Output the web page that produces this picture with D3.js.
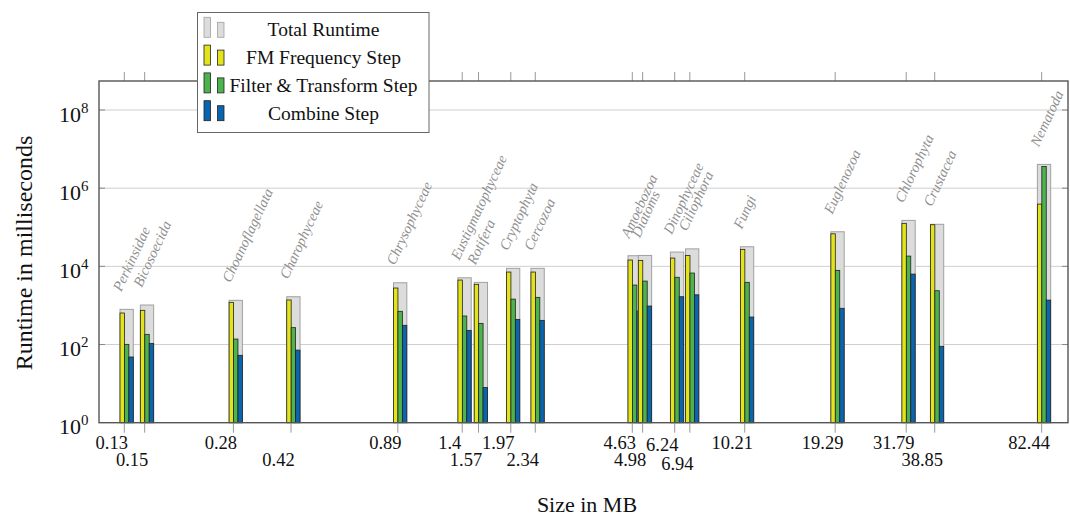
<!DOCTYPE html>
<html>
<head>
<meta charset="utf-8">
<script src="https://cdn.jsdelivr.net/npm/d3@7"></script>
<style>
  body { margin: 0; background: #fff; }
  text { font-family: "Liberation Serif", serif; }
</style>
</head>
<body>
<div id="chart"></div>
<script>
// sizes in MB, one group per taxon
const sizes = [0.13, 0.15, 0.28, 0.42, 0.89, 1.4, 1.57, 1.97, 2.34, 4.63, 4.98, 6.24, 6.94, 10.21, 19.29, 31.79, 38.85, 82.44]
const taxa = ['Perkinsidae', 'Bicosoecida', 'Choanoflagellata', 'Charophyceae', 'Chrysophyceae', 'Eustigmatophyceae', 'Rotifera',
   'Cryptophyta', 'Cercozoa', 'Amoebozoa', 'Diatoms', 'Dinophyceae', 'Ciliophora', 'Fungi', 'Euglenozoa', 'Chlorophyta', 'Crustacea', 'Nematoda']
// runtimes in ms
const totalRuntime = [794, 1025, 1350, 1670, 3800, 5100, 3890, 8900, 8900, 18700, 19000, 23200, 28000, 31700, 76700, 150000, 119000, 4060000]
const fmStep = [640, 750, 1200, 1380, 2790, 4460, 3470, 7150, 7150, 14500, 14200, 16300, 19000, 27200, 68000, 126000, 116000, 391000]
const filterStep = [101, 182, 138, 270, 707, 537, 348, 1450, 1610, 3320, 4200, 5250, 6740, 3900, 7900, 18300, 2380, 3600000]
const combineStep = [48, 107, 53, 72, 310, 230, 8, 440, 415, 720, 966, 1670, 1870, 505, 845, 6340, 90, 1370]
// which line each size label sits on
const tickRow = [0, 1, 0, 1, 0, 0, 1, 0, 1, 0, 1.05, 0.1, 1.3, 0, 0, 0, 1, 0]
const yTicks = [1, 1e2, 1e4, 1e6, 1e8]

const seriesNames = ['Total Runtime', 'FM Frequency Step', 'Filter & Transform Step', 'Combine Step']
const fills = ['#dcdcdc', '#e3e31c', '#4db34d', '#0a64ae']
const strokes = ['#a0a0a0', '#222', '#222', '#222']

const width = 1070
const height = 517
const plot = { left: 99, right: 1068, top: 81, bottom: 422.7 }

const svg = d3.select('#chart')
   .append('svg')
   .attr('width', width)
   .attr('height', height)

const x = d3.scaleLog().domain([0.1088, 99.2]).range([plot.left, plot.right])
const y = d3.scaleLog().domain([1, Math.pow(10, 8.742)]).range([plot.bottom, plot.top])

// grid
svg.append('g')
   .selectAll('line')
   .data(yTicks.slice(1))
   .enter()
   .append('line')
   .attr('x1', plot.left)
   .attr('x2', plot.right)
   .attr('y1', d => y(d))
   .attr('y2', d => y(d))
   .attr('stroke', '#cfcfcf')
   .attr('stroke-width', 1)

// small y ticks on both sides
const yt = svg.append('g')
yTicks.slice(1).forEach(d => {
   yt.append('line').attr('x1', plot.left).attr('x2', plot.left + 6).attr('y1', y(d)).attr('y2', y(d)).attr('stroke', '#888')
   yt.append('line').attr('x1', plot.right - 6).attr('x2', plot.right).attr('y1', y(d)).attr('y2', y(d)).attr('stroke', '#888')
})

// x ticks top and bottom
svg.append('g')
   .selectAll('line')
   .data(sizes)
   .enter()
   .append('line')
   .attr('x1', d => x(d))
   .attr('x2', d => x(d))
   .attr('y1', plot.bottom + 1)
   .attr('y2', plot.bottom + 10)
   .attr('stroke', '#999')
svg.append('g')
   .selectAll('line')
   .data(sizes)
   .enter()
   .append('line')
   .attr('x1', d => x(d))
   .attr('x2', d => x(d))
   .attr('y1', plot.top - 9)
   .attr('y2', plot.top)
   .attr('stroke', '#999')

// bars
const bw = 13.3
const groups = svg.append('g')
   .selectAll('g')
   .data(sizes)
   .enter()
   .append('g')
   .attr('transform', d => `translate(${x(d) - 4.3},0)`)

groups.append('rect')
   .attr('x', 0)
   .attr('width', bw)
   .attr('y', (d, i) => y(totalRuntime[i]))
   .attr('height', (d, i) => plot.bottom - y(totalRuntime[i]))
   .attr('fill', fills[0])
   .attr('stroke', strokes[0])
   .attr('stroke-width', 1)

const stepSeries = [fmStep, filterStep, combineStep]
stepSeries.forEach((vals, k) => {
   groups.append('rect')
      .attr('x', k * bw / 3)
      .attr('width', bw / 3)
      .attr('y', (d, i) => y(vals[i]))
      .attr('height', (d, i) => plot.bottom - y(vals[i]))
      .attr('fill', fills[k + 1])
      .attr('stroke', strokes[k + 1])
      .attr('stroke-width', 0.8)
})

// taxon names above the bars
svg.append('g')
   .selectAll('text')
   .data(sizes)
   .enter()
   .append('text')
   .attr('transform', (d, i) => `translate(${x(d) - 3},${y(totalRuntime[i]) - 17}) rotate(-65)`)
   .attr('font-style', 'italic')
   .attr('font-size', 14.5)
   .attr('fill', '#909090')
   .text((d, i) => taxa[i])

// frame
svg.append('rect')
   .attr('x', plot.left)
   .attr('y', plot.top)
   .attr('width', plot.right - plot.left)
   .attr('height', plot.bottom - plot.top)
   .attr('fill', 'none')
   .attr('stroke', '#555')
   .attr('stroke-width', 1.4)

// size labels
svg.append('g')
   .selectAll('text')
   .data(sizes)
   .enter()
   .append('text')
   .attr('x', d => x(d) - 12.5)
   .attr('y', (d, i) => 449 + tickRow[i] * 16.5)
   .attr('text-anchor', 'middle')
   .attr('font-size', 18.5)
   .attr('fill', '#111')
   .text(d => d)

// y tick labels 10^n
const yl = svg.append('g')
   .selectAll('text')
   .data(yTicks)
   .enter()
   .append('text')
   .attr('x', 88.5)
   .attr('y', d => y(d) + 11.7)
   .attr('text-anchor', 'end')
   .attr('font-size', 22)
   .attr('fill', '#111')
yl.append('tspan').text('10')
yl.append('tspan')
   .attr('font-size', 15)
   .attr('dy', -9)
   .text(d => Math.round(Math.log10(d)))

// axis titles
svg.append('text')
   .attr('x', 587)
   .attr('y', 512)
   .attr('text-anchor', 'middle')
   .attr('font-size', 22)
   .attr('fill', '#111')
   .text('Size in MB')
svg.append('text')
   .attr('transform', 'translate(32,253) rotate(-90)')
   .attr('text-anchor', 'middle')
   .attr('font-size', 24)
   .attr('fill', '#111')
   .text('Runtime in milliseconds')

// legend
const legend = svg.append('g')
legend.append('rect')
   .attr('x', 197.5)
   .attr('y', 12.5)
   .attr('width', 231.5)
   .attr('height', 120)
   .attr('fill', '#fff')
   .attr('stroke', '#666')
   .attr('stroke-width', 1)
seriesNames.forEach((name, i) => {
   const by = 37.3 + i * 27.8
   legend.append('rect').attr('x', 204).attr('y', by - 20).attr('width', 6.5).attr('height', 20)
      .attr('fill', fills[i]).attr('stroke', strokes[i]).attr('stroke-width', 0.8)
   legend.append('rect').attr('x', 217.5).attr('y', by - 15).attr('width', 6.5).attr('height', 15)
      .attr('fill', fills[i]).attr('stroke', strokes[i]).attr('stroke-width', 0.8)
   legend.append('text')
      .attr('x', 323.5)
      .attr('y', by - 1)
      .attr('text-anchor', 'middle')
      .attr('font-size', 19.5)
      .attr('fill', '#111')
      .text(name)
})
</script>
</body>
</html>
